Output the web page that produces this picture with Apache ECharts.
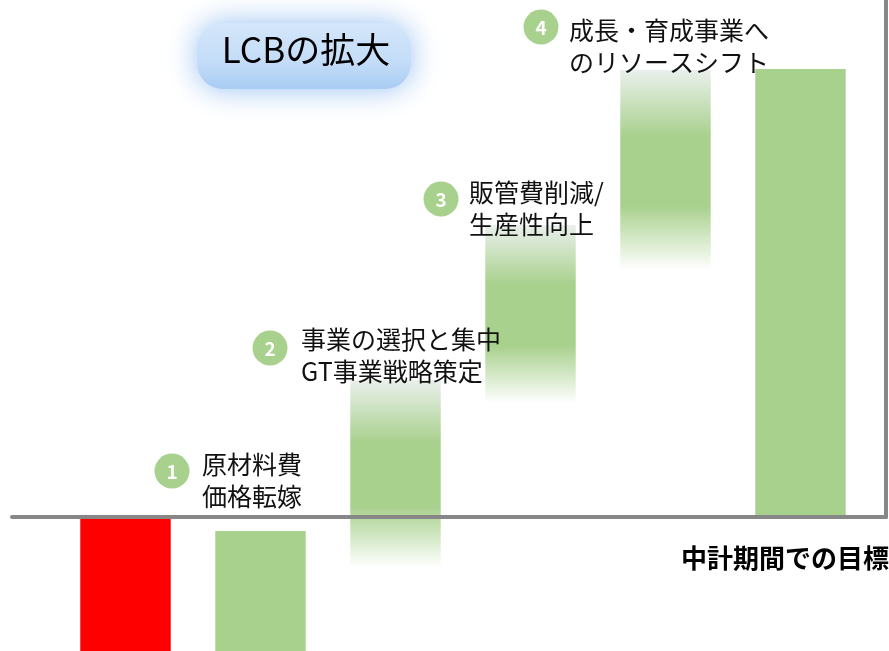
<!DOCTYPE html>
<html>
<head>
<meta charset="utf-8">
<script src="https://cdn.jsdelivr.net/npm/echarts@6/dist/echarts.min.js"></script>
<style>
html,body{margin:0;padding:0;background:#fff;}
#c{width:889px;height:651px;}
</style>
</head>
<body>
<div id="c"></div>
<script>
// ---- data ----
const categories = ['現状', '原材料費価格転嫁', '事業の選択と集中', '販管費削減/生産性向上', 'リソースシフト', '中計期間での目標'];
const barLow  = [-29.9, -29.9, -11.2, 25.4, 55.1, 0];
const barHigh = [0, -3.1, 30.6, 65.2, 99.8, 100];
const stepNumbers = ['1', '2', '3', '4'];
const stepLabels = ['原材料費\n価格転嫁', '事業の選択と集中\nGT事業戦略策定', '販管費削減/\n生産性向上', '成長・育成事業へ\nのリソースシフト'];
const titleText = 'LCBの拡大';
const targetText = '中計期間での目標';

const Y_MIN = -29.9, Y_MAX = 115.4;
const GREEN = '#a9d18e';
const FONT = '"Noto Sans CJK JP", "Noto Sans", sans-serif';

const chart = echarts.init(document.getElementById('c'), null, {renderer: 'canvas'});

function fillFor(i) {
  if (i === 0) return '#ff0000';
  if (i === 1 || i === 5) return GREEN;
  return new echarts.graphic.LinearGradient(0, 0, 0, 1, [
    {offset: 0, color: 'rgba(234,240,236,1)'},
    {offset: 0.33, color: GREEN},
    {offset: 0.68, color: GREEN},
    {offset: 1, color: 'rgba(255,255,255,1)'}
  ]);
}

const seriesData = categories.map((c, i) => [i, barLow[i], barHigh[i]]);

// annotation layout
const circlePos = [[172, 471], [270, 348], [441, 199], [541, 27]];
const labelPos = [[202, 480], [301, 355], [469, 208], [569, 46]];

const graphics = [];
// title box (soft glow)
graphics.push({
  type: 'rect', z: 50,
  shape: {x: 197, y: 23, width: 214, height: 66, r: 26},
  style: {
    fill: new echarts.graphic.LinearGradient(0, 0, 0, 1, [
      {offset: 0, color: '#d4e6fa'},
      {offset: 0.6, color: '#c3dcf8'},
      {offset: 1, color: '#a9ccf3'}
    ]),
    shadowBlur: 30, shadowColor: 'rgba(150,192,242,1)'
  }
});
graphics.push({
  type: 'text', z: 51, x: 306, y: 50,
  style: {text: titleText, font: '35px ' + FONT, fill: '#000', align: 'center', verticalAlign: 'middle'}
});
stepNumbers.forEach((n, k) => {
  graphics.push({
    type: 'circle', z: 60,
    shape: {cx: circlePos[k][0], cy: circlePos[k][1], r: 17.5},
    style: {fill: GREEN}
  });
  graphics.push({
    type: 'text', z: 61, x: circlePos[k][0], y: circlePos[k][1] + 1,
    style: {text: n, font: 'bold 19px ' + FONT, fill: '#fff', align: 'center', verticalAlign: 'middle'}
  });
  graphics.push({
    type: 'text', z: 61, x: labelPos[k][0], y: labelPos[k][1],
    style: {text: stepLabels[k], font: '25px ' + FONT, lineHeight: 32, fill: '#111', align: 'left', verticalAlign: 'middle'}
  });
});
graphics.push({
  type: 'text', z: 61, x: 889, y: 558,
  style: {text: targetText, font: 'bold 26px ' + FONT, fill: '#000', align: 'right', verticalAlign: 'middle'}
});

const option = {
  animation: false,
  backgroundColor: '#fff',
  grid: [
    {left: 12, right: 3, top: 0, bottom: 134},
    {left: 58, right: 21, top: 0, bottom: 0}
  ],
  xAxis: [
    {gridIndex: 0, type: 'category', data: categories, z: 20,
     axisLine: {show: true, lineStyle: {color: '#878787', width: 4}},
     axisTick: {show: false}, axisLabel: {show: false}, splitLine: {show: false}},
    {gridIndex: 1, type: 'category', data: categories,
     axisLine: {show: false}, axisTick: {show: false}, axisLabel: {show: false}, splitLine: {show: false}}
  ],
  yAxis: [
    {gridIndex: 0, type: 'value', position: 'right', min: 0, max: Y_MAX, z: 20,
     axisLine: {show: true, lineStyle: {color: '#878787', width: 4}},
     axisTick: {show: false}, axisLabel: {show: false}, splitLine: {show: false}},
    {gridIndex: 1, type: 'value', min: Y_MIN, max: Y_MAX,
     axisLine: {show: false}, axisTick: {show: false}, axisLabel: {show: false}, splitLine: {show: false}}
  ],
  series: [{
    type: 'custom',
    xAxisIndex: 1, yAxisIndex: 1,
    z: 2,
    data: seriesData,
    renderItem: function (params, api) {
      const i = api.value(0);
      const lo = api.coord([i, api.value(1)]);
      const hi = api.coord([i, api.value(2)]);
      const w = api.size([1, 0])[0] * 0.67;
      const rect = echarts.graphic.clipRectByRect(
        {x: hi[0] - w / 2, y: hi[1], width: w, height: lo[1] - hi[1]},
        {x: params.coordSys.x, y: params.coordSys.y, width: params.coordSys.width, height: params.coordSys.height}
      );
      if (!rect) return;
      return {type: 'rect', shape: rect, style: {fill: fillFor(params.dataIndex)}};
    }
  }],
  graphic: graphics
};
chart.setOption(option);
</script>
</body>
</html>
